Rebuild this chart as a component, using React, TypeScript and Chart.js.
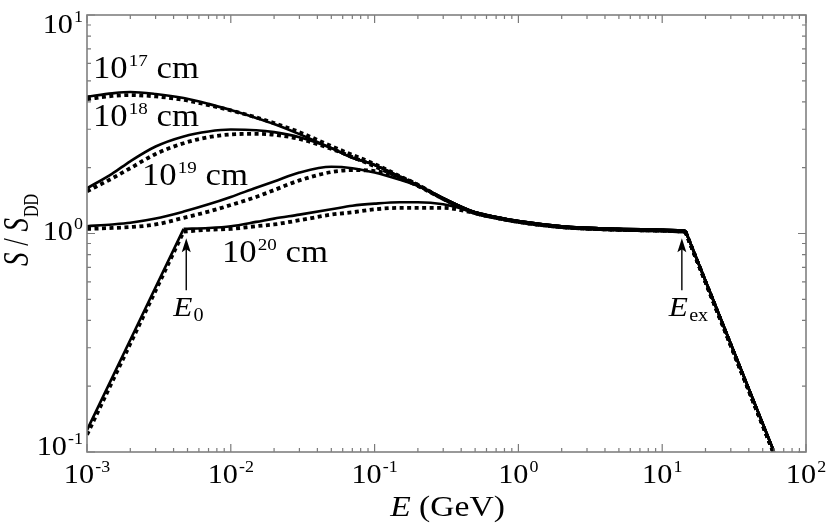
import { useEffect, useRef } from 'react'
import { Chart, registerables } from 'chart.js'

Chart.register(...registerables)

// photon energy grid (GeV)
const energies = [1e-3, 1.5e-3, 2e-3, 3e-3, 4.7e-3, 7e-3, 1e-2, 1.5e-2, 2e-2, 3e-2, 5e-2, 7e-2, 0.1, 0.15, 0.2, 0.3, 0.5, 0.7, 1, 2, 5, 10, 14.5, 60]

// S / S_DD, solid curves
const solid17 = [4.23, 4.38, 4.44, 4.35, 4.17, 3.92, 3.67, 3.38, 3.17, 2.85, 2.46, 2.22, 2.06, 1.82, 1.66, 1.45, 1.25, 1.19, 1.14, 1.08, 1.05, 1.04, 1.03, 0.1]
const solid18 = [1.61, 1.88, 2.14, 2.5, 2.78, 2.93, 2.99, 2.97, 2.91, 2.76, 2.46, 2.22, 2.06, 1.82, 1.66, 1.45, 1.25, 1.19, 1.14, 1.08, 1.05, 1.04, 1.03, 0.1]
const solid19 = [1.08, 1.1, 1.12, 1.17, 1.26, 1.36, 1.47, 1.62, 1.73, 1.9, 2.02, 1.99, 1.9, 1.76, 1.65, 1.45, 1.25, 1.19, 1.14, 1.08, 1.05, 1.04, 1.03, 0.1]
const solid20 = [0.126, null, null, null, 1.05, 1.06, 1.08, 1.13, 1.17, 1.22, 1.29, 1.34, 1.37, 1.39, 1.39, 1.36, 1.25, 1.19, 1.14, 1.08, 1.05, 1.04, 1.03, 0.1]

// S / S_DD, dotted curves
const dotted17 = [4.12, 4.26, 4.3, 4.24, 4.09, 3.87, 3.66, 3.4, 3.2, 2.91, 2.51, 2.29, 2.08, 1.83, 1.67, 1.44, 1.24, 1.18, 1.13, 1.07, 1.04, 1.03, 1.02, 0.098]
const dotted18 = [1.56, 1.79, 1.99, 2.31, 2.59, 2.76, 2.84, 2.86, 2.83, 2.71, 2.44, 2.24, 2.03, 1.8, 1.65, 1.44, 1.24, 1.18, 1.13, 1.07, 1.04, 1.03, 1.02, 0.098]
const dotted19 = [1.05, 1.06, 1.07, 1.1, 1.18, 1.26, 1.35, 1.47, 1.58, 1.75, 1.91, 1.95, 1.93, 1.81, 1.67, 1.44, 1.24, 1.18, 1.13, 1.07, 1.04, 1.03, 1.02, 0.098]
const dotted20 = [0.12, null, null, null, 1.02, 1.04, 1.05, 1.08, 1.1, 1.15, 1.22, 1.25, 1.29, 1.31, 1.31, 1.31, 1.24, 1.18, 1.13, 1.07, 1.04, 1.03, 1.02, 0.098]

// energies where a curve has a sharp corner (E0 and Eex)
const cornersLow = [14.5]
const cornersHigh = [4.7e-3, 14.5]

const xTickExps = [-3, -2, -1, 0, 1, 2]
const yTickExps = [-1, 0, 1]
const minorMults = [2, 3, 4, 5, 6, 7, 8, 9]

// arrows marking E0 and Eex
const arrowEnergies = [4.9e-3, 13.7]
const arrowSubs = ['0', 'ex']
const arrowTip = 0.95
const arrowTail = 0.55

const SERIF = '"Liberation Serif", "Times New Roman", serif'
const SX = 1.12

type Run = { t: string; size: number; italic?: boolean; dy?: number; gap?: number }

function drawRuns(ctx: CanvasRenderingContext2D, runs: Run[], x: number, y: number, align: 'left' | 'center' | 'right', rotate = false, sx = SX) {
  const font = (r: Run) => `${r.italic ? 'italic ' : ''}${r.size}px ${SERIF}`
  let w = 0
  const ws = runs.map((r) => {
    ctx.font = font(r)
    const m = ctx.measureText(r.t).width + (r.gap ?? 0)
    w += m
    return m
  })
  ctx.save()
  ctx.translate(x, y)
  ctx.scale(sx, 1)
  if (rotate) ctx.rotate(-Math.PI / 2)
  let cx = align === 'left' ? 0 : align === 'center' ? -w / 2 : -w
  ctx.fillStyle = '#000'
  ctx.textAlign = 'left'
  ctx.textBaseline = 'alphabetic'
  runs.forEach((r, i) => {
    ctx.font = font(r)
    ctx.fillText(r.t, cx + (r.gap ?? 0), r.dy ?? 0)
    cx += ws[i]
  })
  ctx.restore()
}

const pow10 = (exp: string, size: number, expSize: number, rise: number, tail = ''): Run[] => {
  const runs: Run[] = [
    { t: '10', size },
    { t: exp, size: expSize, dy: -rise, gap: 1 },
  ]
  if (tail) runs.push({ t: tail, size })
  return runs
}

const framePlugin = {
  id: 'frame',
  afterDraw(chart: Chart) {
    const { ctx, chartArea: a } = chart
    const xs = chart.scales.x
    const ys = chart.scales.y
    ctx.save()
    ctx.strokeStyle = '#7a7a7a'
    ctx.lineWidth = 1.2
    ctx.beginPath()
    const xTick = (v: number, len: number) => {
      const p = xs.getPixelForValue(v)
      ctx.moveTo(p, a.bottom)
      ctx.lineTo(p, a.bottom - len)
      ctx.moveTo(p, a.top)
      ctx.lineTo(p, a.top + len)
    }
    const yTick = (v: number, len: number) => {
      const p = ys.getPixelForValue(v)
      ctx.moveTo(a.left, p)
      ctx.lineTo(a.left + len, p)
      ctx.moveTo(a.right, p)
      ctx.lineTo(a.right - len, p)
    }
    xTickExps.forEach((e, i) => {
      xTick(Math.pow(10, e), 8)
      if (i < xTickExps.length - 1) minorMults.forEach((m) => xTick(m * Math.pow(10, e), 4))
    })
    yTickExps.forEach((e, i) => {
      yTick(Math.pow(10, e), 8)
      if (i < yTickExps.length - 1) minorMults.forEach((m) => yTick(m * Math.pow(10, e), 4))
    })
    ctx.stroke()
    ctx.strokeStyle = '#808080'
    ctx.lineWidth = 1.6
    ctx.strokeRect(a.left, a.top, a.right - a.left, a.bottom - a.top)

    // arrows
    ctx.strokeStyle = '#000'
    ctx.fillStyle = '#000'
    ctx.lineWidth = 1.4
    arrowEnergies.forEach((en) => {
      const x = xs.getPixelForValue(en)
      const tip = ys.getPixelForValue(arrowTip)
      const tail = ys.getPixelForValue(arrowTail)
      ctx.beginPath()
      ctx.moveTo(x, tail)
      ctx.lineTo(x, tip + 10)
      ctx.stroke()
      ctx.beginPath()
      ctx.moveTo(x, tip)
      ctx.lineTo(x - 4.5, tip + 14)
      ctx.lineTo(x, tip + 11)
      ctx.lineTo(x + 4.5, tip + 14)
      ctx.closePath()
      ctx.fill()
    })
    ctx.restore()

    // tick labels
    xTickExps.forEach((e) => {
      drawRuns(ctx, pow10(String(e), 27, 16, 11), xs.getPixelForValue(Math.pow(10, e)), a.bottom + 31, 'center')
    })
    yTickExps.forEach((e) => {
      const py = Math.min(Math.max(ys.getPixelForValue(Math.pow(10, e)) + 6, a.top + 18), a.bottom + 3)
      drawRuns(ctx, pow10(String(e), 27, 16, 11), a.left - 4, py, 'right')
    })

    // axis titles
    drawRuns(ctx, [
      { t: 'E', size: 30, italic: true },
      { t: ' (GeV)', size: 30 },
    ], (a.left + a.right) / 2 + 1, a.bottom + 64, 'center')
    drawRuns(ctx, [
      { t: 'S', size: 27, italic: true },
      { t: ' / ', size: 27 },
      { t: 'S', size: 27, italic: true },
      { t: 'DD', size: 16, dy: 8, gap: 1 },
    ], 28, 230, 'center', true, 1.3)

    // curve labels
    drawRuns(ctx, pow10('17', 31, 17, 12, ' cm'), a.left + 6, 78, 'left')
    drawRuns(ctx, pow10('18', 31, 17, 12, ' cm'), a.left + 6, 126, 'left')
    drawRuns(ctx, pow10('19', 31, 17, 12, ' cm'), a.left + 55, 185, 'left')
    drawRuns(ctx, pow10('20', 31, 17, 12, ' cm'), a.left + 135, 262, 'left')

    // E0 / Eex labels
    arrowEnergies.forEach((en, i) => {
      const x = xs.getPixelForValue(en)
      drawRuns(ctx, [
        { t: 'E', size: 28, italic: true },
        { t: arrowSubs[i], size: 18, dy: 5, gap: 1 },
      ], x - 13, 316, 'left')
    })
  },
}

const series = [
  { data: solid17, dotted: false, corners: cornersLow },
  { data: solid18, dotted: false, corners: cornersLow },
  { data: solid19, dotted: false, corners: cornersLow },
  { data: solid20, dotted: false, corners: cornersHigh },
  { data: dotted17, dotted: true, corners: cornersLow },
  { data: dotted18, dotted: true, corners: cornersLow },
  { data: dotted19, dotted: true, corners: cornersLow },
  { data: dotted20, dotted: true, corners: cornersHigh },
]

// split each curve at its corners so the smooth parts can be splined
// while the corners stay sharp
const pieces = (values: (number | null)[], corners: number[]) => {
  const pts = energies
    .map((e, i) => ({ x: e, y: values[i] }))
    .filter((p) => p.y !== null) as { x: number; y: number }[]
  const out: { x: number; y: number }[][] = []
  let cur: { x: number; y: number }[] = []
  pts.forEach((p) => {
    cur.push(p)
    if (corners.includes(p.x)) {
      out.push(cur)
      cur = [p]
    }
  })
  if (cur.length > 1) out.push(cur)
  return out
}

const App = () => {
  const canvasRef = useRef<HTMLCanvasElement>(null)
  const chartRef = useRef<Chart | null>(null)

  useEffect(() => {
    if (canvasRef.current) {
      const datasets = series.flatMap((s) =>
        pieces(s.data, s.corners).map((pts) => ({
          data: pts,
          borderColor: '#000',
          borderWidth: s.dotted ? 3.8 : 2.6,
          borderDash: s.dotted ? [4, 3.5] : [],
          borderCapStyle: 'butt' as const,
          borderJoinStyle: 'round' as const,
          pointRadius: 0,
          cubicInterpolationMode: 'monotone' as const,
          fill: false,
        })),
      )
      chartRef.current = new Chart(canvasRef.current, {
        type: 'line',
        data: { datasets },
        options: {
          animation: false,
          responsive: true,
          maintainAspectRatio: false,
          layout: { padding: { left: 87, top: 15, right: 24, bottom: 76 } },
          plugins: {
            legend: { display: false },
            tooltip: { enabled: false },
          },
          scales: {
            x: { type: 'logarithmic', min: 1e-3, max: 100, display: false },
            y: { type: 'logarithmic', min: 0.1, max: 10, display: false },
          },
        },
        plugins: [framePlugin],
      })
    }
    return () => {
      if (chartRef.current) {
        chartRef.current.destroy()
      }
    }
  }, [])

  return (
    <div style={{ position: 'absolute', left: 0, top: 0, width: 830, height: 528, background: '#fff' }}>
      <canvas ref={canvasRef}></canvas>
    </div>
  )
}

export default App
